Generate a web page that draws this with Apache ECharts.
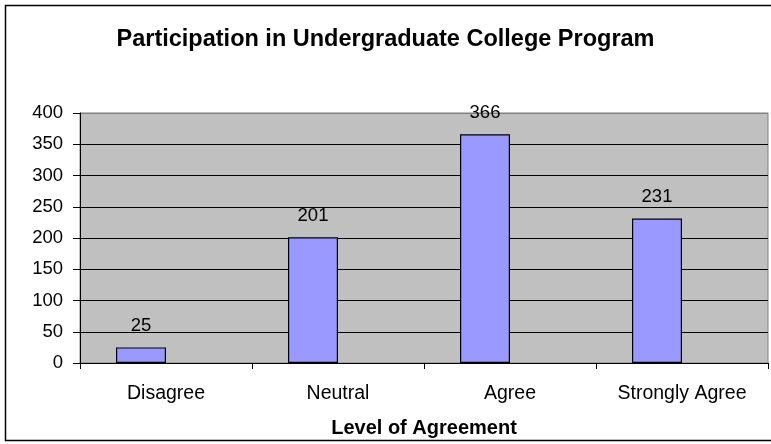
<!DOCTYPE html>
<html>
<head>
<meta charset="utf-8">
<script src="https://cdn.jsdelivr.net/npm/echarts@6/dist/echarts.min.js"></script>
<style>
  html, body { margin: 0; padding: 0; background: #ffffff; }
  #chart { width: 771px; height: 444px; }
</style>
</head>
<body>
<div id="chart"></div>
<script>
// data
var categories = ['Disagree', 'Neutral', 'Agree', 'Strongly Agree'];
var participants = [25, 201, 366, 231];
// Excel left a second, empty series next to each bar
var emptySeries = [null, null, null, null];
var yTicks = { min: 0, max: 400, interval: 50 };

var chart = echarts.init(document.getElementById('chart'));
var font = 'Liberation Sans, Arial, sans-serif';

// split line colours, last one (at 400) is the grey plot border
var gridColors = [];
for (var v = yTicks.min; v <= yTicks.max; v += yTicks.interval) {
  gridColors.push(v === yTicks.max ? '#808080' : '#000000');
}

var option = {
  animation: false,
  backgroundColor: '#ffffff',
  title: {
    text: 'Participation in Undergraduate College Program',
    left: 'center',
    top: 28,
    padding: 0,
    textStyle: { fontFamily: font, fontSize: 23.5, fontWeight: 'bold', color: '#000' }
  },
  graphic: [{
    type: 'rect',
    shape: { x: 5.5, y: 5.5, width: 800, height: 435 },
    style: { fill: 'none', stroke: '#000', lineWidth: 1.5 },
    silent: true
  }],
  grid: {
    left: 80, right: 3, top: 113, bottom: 81,
    show: true,
    backgroundColor: '#c0c0c0',
    borderColor: '#808080',
    borderWidth: 1
  },
  xAxis: {
    type: 'category',
    data: categories,
    name: 'Level of Agreement',
    nameLocation: 'middle',
    nameGap: 55,
    nameTextStyle: { fontFamily: font, fontSize: 20, fontWeight: 'bold', color: '#000' },
    axisLine: { lineStyle: { color: '#000', width: 1 } },
    axisTick: { show: true, alignWithLabel: false, length: 6, lineStyle: { color: '#000' } },
    axisLabel: { fontFamily: font, fontSize: 19.5, color: '#000', margin: 21, interval: 0 }
  },
  yAxis: {
    type: 'value',
    min: yTicks.min,
    max: yTicks.max,
    interval: yTicks.interval,
    axisLine: { show: true, lineStyle: { color: '#000', width: 1 } },
    axisTick: { show: true, length: 7, lineStyle: { color: '#000' } },
    axisLabel: { fontFamily: font, fontSize: 18.5, color: '#000', margin: 17 },
    splitLine: { show: true, lineStyle: { color: gridColors, width: 1 } }
  },
  series: [
    {
      name: 'Participants',
      type: 'bar',
      data: participants,
      barWidth: 50,
      barGap: '0%',
      itemStyle: { color: '#9999ff', borderColor: '#000', borderWidth: 1.2 },
      label: {
        show: true,
        position: 'top',
        distance: 12,
        fontFamily: font,
        fontSize: 18.5,
        color: '#000'
      }
    },
    {
      name: 'Empty',
      type: 'bar',
      data: emptySeries,
      barWidth: 50
    }
  ]
};

chart.setOption(option);
</script>
</body>
</html>
